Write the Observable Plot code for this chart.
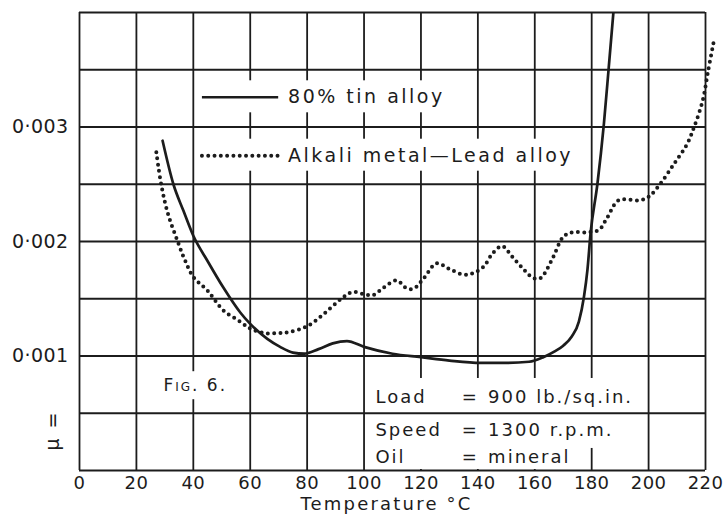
<!DOCTYPE html>
<html>
<head>
<meta charset="utf-8">
<script src="https://cdn.jsdelivr.net/npm/d3@7"></script>
<script src="https://cdn.jsdelivr.net/npm/@observablehq/plot@0.6"></script>
<style>
  body { margin: 0; background: #fff; }
  #chart svg { font-family: "DejaVu Sans", sans-serif; }
  #chart svg text { letter-spacing: 2px; }
  #chart g[aria-label="x-axis tick label"] text { letter-spacing: 0.4px; }
  #chart g[aria-label="y-axis tick label"] text { letter-spacing: 0.4px; }
  #chart g[aria-description^="box-leg"] text { letter-spacing: 2.5px; }
  #chart g[aria-description="xlabel"] text { letter-spacing: 2.2px; }
</style>
</head>
<body>
<div id="chart"></div>
<script>
// ---- data ----
const tinT  = [29.2, 33, 36.5, 40, 45, 50.5, 56.5, 60, 66, 70.5, 75, 79, 84, 89, 94, 100, 110, 120, 130, 141, 150, 158, 163, 167, 170, 173, 175.5, 177.3, 178.5, 179.6, 182, 184.3, 186, 187.7];
const tinMu = [0.00288, 0.0025, 0.00227, 0.00205, 0.00183, 0.0016, 0.00138, 0.00128, 0.00115, 0.00108, 0.00103, 0.00102, 0.00106, 0.00111, 0.00113, 0.00108, 0.00102, 0.00099, 0.00096, 0.00094, 0.00094, 0.00095, 0.00099, 0.00104, 0.00109, 0.00117, 0.0013, 0.00152, 0.00175, 0.00207, 0.0025, 0.00303, 0.00352, 0.00402];

const alkT  = [27, 28.7, 31, 34.5, 37, 40, 45, 50.5, 56.5, 60, 65, 70, 74, 80, 86, 92, 96, 100, 103, 107, 111.5, 115, 117.5, 121, 125.5, 130, 135, 138, 142, 145, 148.5, 152, 156, 159.5, 162, 166, 170, 173, 178, 182.5, 185.5, 189.5, 197, 200, 204, 209, 213.5, 216, 219, 221, 223];
const alkMu = [0.00278, 0.0025, 0.00225, 0.002, 0.00184, 0.00169, 0.00157, 0.0014, 0.0013, 0.00124, 0.0012, 0.0012, 0.00121, 0.00126, 0.00137, 0.0015, 0.00156, 0.00154, 0.00153, 0.0016, 0.00166, 0.00159, 0.00159, 0.00168, 0.00181, 0.00176, 0.00171, 0.00172, 0.00178, 0.00189, 0.00196, 0.00187, 0.00176, 0.00168, 0.00168, 0.00184, 0.00204, 0.00208, 0.00208, 0.0021, 0.00221, 0.00236, 0.00236, 0.00239, 0.0025, 0.00268, 0.00285, 0.003, 0.00323, 0.0035, 0.00376];

const xTicks = [0, 20, 40, 60, 80, 100, 120, 140, 160, 180, 200, 220];
const yGrid = [0, 0.0005, 0.001, 0.0015, 0.002, 0.0025, 0.003, 0.0035, 0.004];
const yTickLabels = [0.001, 0.002, 0.003];
const seriesNames = ["80% tin alloy", "Alkali metal\u2014Lead alloy"];
const annLabels = ["Load", "Speed", "Oil"];
const annValues = ["900 lb./sq.in.", "1300 r.p.m.", "mineral"];
const figLabel = "Fig. 6.";
const xLabel = "Temperature \u00B0C";
const yLabel = "\u03BC =";

// ---- build tables ----
const tin = tinT.map((t, i) => ({t, mu: tinMu[i]}));
const alk = alkT.map((t, i) => ({t, mu: alkMu[i]}));

const ink = "#1c1c1c";
const dotted = {strokeDasharray: "0 6.3", strokeLinecap: "round", strokeWidth: 4};
const solid = {strokeWidth: 2.7};

// in-chart anchors (chart units) for legend and notes
const legendX1 = 43.2, legendX2 = 70, legendTextX = 73.3;
const legendY = [0.00326, 0.00275];
const annY = [0.00064, 0.000352, 0.000115];
const annXLabel = 104, annXEq = 134.3, annXVal = 143.6;
const figX = 29.5, figY = 0.00074;

const marks = [
  Plot.axisX({ticks: xTicks, tickSize: 0, tickPadding: 6, label: null, fontSize: 18, tickFormat: d => String(d)}),
  Plot.axisY({ticks: yTickLabels, tickSize: 0, tickPadding: 11, label: null, fontSize: 19,
              tickFormat: d => d3.format(".3f")(d).replace(".", "\u00B7")}),
  Plot.ruleX(xTicks, {stroke: ink, strokeWidth: 1.8, ariaDescription: "grid-x"}),
  Plot.ruleY(yGrid, {stroke: ink, strokeWidth: 1.8, ariaDescription: "grid-y"}),
  Plot.line(alk, {x: "t", y: "mu", stroke: ink, ...dotted, curve: "catmull-rom", clip: false}),
  Plot.line(tin, {x: "t", y: "mu", stroke: ink, ...solid, curve: "monotone-x", clip: true}),
  Plot.text([xLabel], {frameAnchor: "bottom", lineAnchor: "middle", textAnchor: "middle", dx: -6, dy: 34, fontSize: 18, fill: ink, ariaDescription: "xlabel"}),
  Plot.text([yLabel], {frameAnchor: "bottom-left", lineAnchor: "middle", textAnchor: "middle", rotate: -90, dx: -27, dy: -40, fontSize: 19, fill: ink}),
  Plot.text([figLabel], {x: () => figX, y: () => figY, textAnchor: "start", fontSize: 17, fontVariant: "small-caps", fill: ink, ariaDescription: "box-fig"})
];

seriesNames.forEach((name, i) => {
  const style = i === 0 ? solid : dotted;
  marks.push(
    Plot.ruleY([legendY[i]], {x1: legendX1, x2: legendX2, stroke: ink, ...style, ariaDescription: "box-leg" + i}),
    Plot.text([name], {x: () => legendTextX, y: () => legendY[i], textAnchor: "start", fontSize: 19, fill: ink, ariaDescription: "box-leg" + i})
  );
});

annLabels.forEach((lab, i) => {
  const desc = "box-ann" + i;
  marks.push(
    Plot.text([lab], {x: () => annXLabel, y: () => annY[i], textAnchor: "start", fontSize: 18, fill: ink, ariaDescription: desc}),
    Plot.text(["="], {x: () => annXEq, y: () => annY[i], textAnchor: "start", fontSize: 18, fill: ink, ariaDescription: desc}),
    Plot.text([annValues[i]], {x: () => annXVal, y: () => annY[i], textAnchor: "start", fontSize: 18, fill: ink, ariaDescription: desc})
  );
});

const chart = Plot.plot({
  width: 727,
  height: 516,
  marginLeft: 79,
  marginRight: 22,
  marginTop: 12,
  marginBottom: 46,
  x: {domain: [0, 220]},
  y: {domain: [0, 0.004]},
  style: {background: "#fff", color: ink, fontFamily: "DejaVu Sans, sans-serif"},
  marks
});

document.getElementById("chart").append(chart);

// white knock-out boxes behind in-chart lettering (vertical grid lines break there, as in the original)
const sr = chart.getBoundingClientRect();
const boxes = {};
chart.querySelectorAll('g[aria-description^="box-"]').forEach(g => {
  const key = g.getAttribute("aria-description");
  g.querySelectorAll("text, line, path").forEach(el => {
    const r = el.getBoundingClientRect();
    const b = boxes[key] || (boxes[key] = {x1: Infinity, y1: Infinity, x2: -Infinity, y2: -Infinity});
    b.x1 = Math.min(b.x1, r.left - sr.left);
    b.x2 = Math.max(b.x2, r.right - sr.left);
    b.y1 = Math.min(b.y1, r.top - sr.top);
    b.y2 = Math.max(b.y2, r.bottom - sr.top);
  });
});
const padX = 5, padY = {fig: 4, leg: 5, ann: 8};
const gy = chart.querySelector('g[aria-description="grid-y"]');
const knock = document.createElementNS("http://www.w3.org/2000/svg", "g");
Object.entries(boxes).forEach(([key, b]) => {
  const kind = key.startsWith("box-leg") ? "leg" : key.startsWith("box-ann") ? "ann" : "fig";
  const py = padY[kind];
  const x1 = Math.max(80, b.x1 - padX), x2 = Math.min(704, b.x2 + padX);
  const y1 = Math.max(13, b.y1 - py), y2 = Math.min(469, b.y2 + py);
  const rect = document.createElementNS("http://www.w3.org/2000/svg", "rect");
  rect.setAttribute("x", x1); rect.setAttribute("y", y1);
  rect.setAttribute("width", x2 - x1); rect.setAttribute("height", y2 - y1);
  rect.setAttribute("fill", "#fff");
  knock.appendChild(rect);
});
chart.insertBefore(knock, gy);
</script>
</body>
</html>
